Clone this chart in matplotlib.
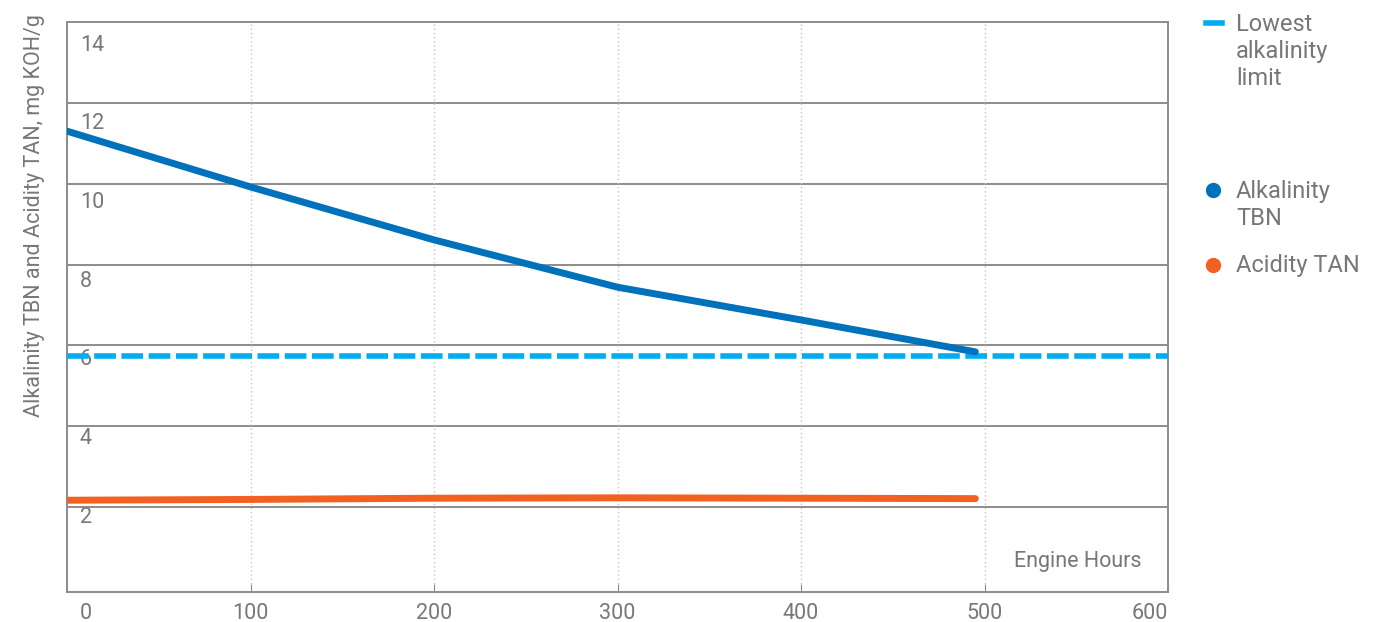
import matplotlib.pyplot as plt
from matplotlib.lines import Line2D
import matplotlib.transforms as mtransforms

plt.rcParams['font.family'] = ['Roboto', 'DejaVu Sans']

# Data
hours = [0, 100, 200, 300, 400, 495]
tbn = [11.30, 9.92, 8.61, 7.44, 6.63, 5.84]
tan = [2.17, 2.19, 2.22, 2.23, 2.22, 2.21]
limit = 5.74
x_ticks = [0, 100, 200, 300, 400, 500, 600]
y_ticks = [2, 4, 6, 8, 10, 12, 14]

text_grey = '#777777'
grid_grey = '#8c8c8c'

fig = plt.figure(figsize=(13.94, 6.22), dpi=100)
ax = fig.add_axes([67/1394, 30/622, (1168-67)/1394, (592-22)/622])

ax.set_xlim(0, 600)
ax.set_ylim(-0.1, 14)

# Frame
for s in ax.spines.values():
    s.set_color(grid_grey)
    s.set_linewidth(1.4)

# Horizontal grid lines, solid
for v in y_ticks[:-1]:
    ax.axhline(v, color=grid_grey, lw=1.4, zorder=1)
# Vertical dotted grid lines
for v in x_ticks[1:-1]:
    ax.axvline(v, color='#c4c4c4', lw=1, ls=(0, (1, 2)), zorder=1)

ax.set_yticks([])
ax.set_xticks(x_ticks)
ax.set_xticklabels([str(v) for v in x_ticks])
ax.tick_params(axis='x', direction='in', length=6, color=grid_grey,
               labelcolor=text_grey, labelsize=15.5, pad=8)
for lab in ax.get_xticklabels():
    if lab.get_text() == '0':
        lab.set_transform(lab.get_transform() +
                          mtransforms.ScaledTranslation(19/100, 0, fig.dpi_scale_trans))
    elif lab.get_text() == '600':
        lab.set_transform(lab.get_transform() +
                          mtransforms.ScaledTranslation(-18/100, 0, fig.dpi_scale_trans))

# y tick labels drawn inside the plot, under each grid line
# (they drift a little further from the line toward the top, as in the original)
for v in y_ticks:
    drop = 8 + (v - 2) * 1.09 + 7.5
    ax.annotate(str(v), xy=(0, v), xycoords=('axes fraction', 'data'),
                xytext=(13, -drop), textcoords='offset pixels',
                ha='left', va='baseline', color=text_grey, fontsize=15.5)

# Series
ax.plot([0, 600], [limit, limit], color='#00aeef', lw=4, ls=(0, (3.9, 1.0)),
        zorder=3, clip_on=False)
ax.plot(hours, tbn, color='#0072bc', lw=5, solid_capstyle='round', zorder=4)
ax.plot(hours, tan, color='#f26122', lw=5, solid_capstyle='round', zorder=4)

# Axis titles
fig.text(35/1394, 1 - 14/622, 'Alkalinity TBN and Acidity TAN, mg KOH/g',
         rotation=90, ha='center', va='top', color=text_grey, fontsize=15.5)
ax.annotate('Engine Hours', xy=(1.0, 0), xycoords='axes fraction',
            xytext=(-26, 31), textcoords='offset pixels', ha='right', va='center',
            color=text_grey, fontsize=15.5,
            bbox=dict(boxstyle='square,pad=0.6', fc='white', ec='none'), zorder=5)

# Legend on the right
fig.add_artist(Line2D([1206/1394, 1222/1394], [1 - 23/622, 1 - 23/622],
                      color='#00aeef', lw=4))
fig.text(1236/1394, 1 - 13/622, 'Lowest\nalkalinity\nlimit', ha='left', va='top',
         color=text_grey, fontsize=17, linespacing=1.22)
fig.add_artist(Line2D([1213/1394], [1 - 190/622], marker='o', ms=10,
                      color='#0072bc', lw=0))
fig.text(1236/1394, 1 - 180/622, 'Alkalinity\nTBN', ha='left', va='top',
         color=text_grey, fontsize=17, linespacing=1.22)
fig.add_artist(Line2D([1213/1394], [1 - 265/622], marker='o', ms=10,
                      color='#f26122', lw=0))
fig.text(1236/1394, 1 - 265/622, 'Acidity TAN', ha='left', va='center',
         color=text_grey, fontsize=17)

plt.savefig('out.png', dpi=100)
